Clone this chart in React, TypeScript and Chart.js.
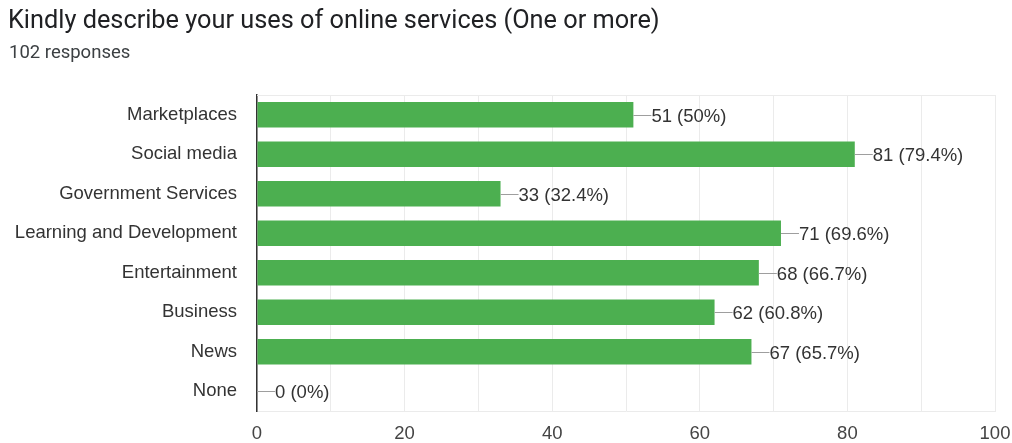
import React, { useEffect, useRef } from "react";
import { Chart, registerables } from "chart.js";

Chart.register(...registerables);

const titleText = "Kindly describe your uses of online services (One or more)";
const subtitleText = "102 responses";
const categories = [
  "Marketplaces",
  "Social media",
  "Government Services",
  "Learning and Development",
  "Entertainment",
  "Business",
  "News",
  "None",
];
const counts = [51, 81, 33, 71, 68, 62, 67, 0];
const percentLabels = ["50%", "79.4%", "32.4%", "69.6%", "66.7%", "60.8%", "65.7%", "0%"];
const xTickValues = [0, 20, 40, 60, 80, 100];

const LABEL_FONT = "Arial, 'Liberation Sans', sans-serif";

const headerPlugin = {
  id: "header",
  afterDraw(chart: any) {
    const ctx = chart.ctx;
    ctx.save();
    ctx.textBaseline = "alphabetic";
    ctx.textAlign = "left";
    ctx.fillStyle = "#202124";
    ctx.font = "25.3px Roboto, sans-serif";
    ctx.fillText(titleText, 8, 28);
    ctx.fillStyle = "#3c4043";
    ctx.font = "18.5px Roboto, sans-serif";
    ctx.fillText(subtitleText, 9, 58);
    ctx.restore();
  },
};

const framePlugin = {
  id: "frame",
  beforeDatasetsDraw(chart: any) {
    const { ctx, chartArea } = chart;
    ctx.save();
    ctx.strokeStyle = "#ebebeb";
    ctx.lineWidth = 1;
    ctx.beginPath();
    ctx.moveTo(chartArea.left, chartArea.top + 0.5);
    ctx.lineTo(chartArea.right, chartArea.top + 0.5);
    ctx.stroke();
    ctx.restore();
  },
};

const valueLabelPlugin = {
  id: "valueLabels",
  afterDatasetsDraw(chart: any) {
    const { ctx } = chart;
    const meta = chart.getDatasetMeta(0);
    ctx.save();
    ctx.font = "18.5px " + LABEL_FONT;
    ctx.textBaseline = "middle";
    ctx.textAlign = "left";
    meta.data.forEach((bar: any, i: number) => {
      const x = bar.x;
      const y = Math.round(bar.y) + 0.5;
      ctx.strokeStyle = "#9e9e9e";
      ctx.lineWidth = 1;
      ctx.beginPath();
      ctx.moveTo(x, y);
      ctx.lineTo(x + 18, y);
      ctx.stroke();
      ctx.fillStyle = "#333333";
      ctx.fillText(`${counts[i]} (${percentLabels[i]})`, x + 18, y + 1);
    });
    ctx.restore();
  },
};

export default function App() {
  const canvasRef = useRef<HTMLCanvasElement | null>(null);

  useEffect(() => {
    document.body.style.margin = "0";
    const canvas = canvasRef.current;
    if (!canvas) return;
    const chart = new Chart(canvas, {
      type: "bar",
      data: {
        labels: categories,
        datasets: [
          {
            data: counts,
            backgroundColor: "#4caf50",
            borderWidth: 0,
            barPercentage: 0.64,
            categoryPercentage: 1,
          },
        ],
      },
      options: {
        indexAxis: "y",
        animation: false,
        responsive: false,
        maintainAspectRatio: false,
        layout: { padding: { top: 95, right: 17, left: 0, bottom: 0 } },
        plugins: {
          legend: { display: false },
          title: { display: false },
          tooltip: { enabled: false },
        },
        scales: {
          x: {
            min: 0,
            max: 100,
            afterFit: (s: any) => {
              s.height = 32;
              s.paddingLeft = 0;
              s.paddingRight = 0;
            },
            afterBuildTicks: (s: any) => {
              const t = [];
              for (let v = 0; v <= 100; v += 10) t.push({ value: v });
              s.ticks = t;
            },
            grid: {
              color: "#ebebeb",
              drawTicks: false,
              lineWidth: 1,
            },
            border: { display: true, color: "#ebebeb" },
            ticks: {
              autoSkip: false,
              maxRotation: 0,
              padding: 12,
              color: "#444444",
              font: { family: LABEL_FONT, size: 18.5 },
              callback: (v: any) => (xTickValues.includes(Number(v)) ? String(v) : ""),
            },
          },
          y: {
            afterFit: (s: any) => {
              s.width = 257;
              s.paddingTop = 0;
              s.paddingBottom = 0;
            },
            grid: { display: false, drawTicks: false },
            border: { display: true, color: "#333333", width: 1.5 },
            ticks: {
              padding: 20,
              color: "#333333",
              font: { family: LABEL_FONT, size: 18.5 },
            },
          },
        },
      },
      plugins: [headerPlugin, framePlugin, valueLabelPlugin],
    } as any);
    return () => chart.destroy();
  }, []);

  return (
    <div style={{ position: "absolute", left: 0, top: 0, width: 1012, height: 443, background: "#fff" }}>
      <canvas ref={canvasRef} width={1012} height={443} style={{ width: 1012, height: 443, display: "block" }} />
    </div>
  );
}
